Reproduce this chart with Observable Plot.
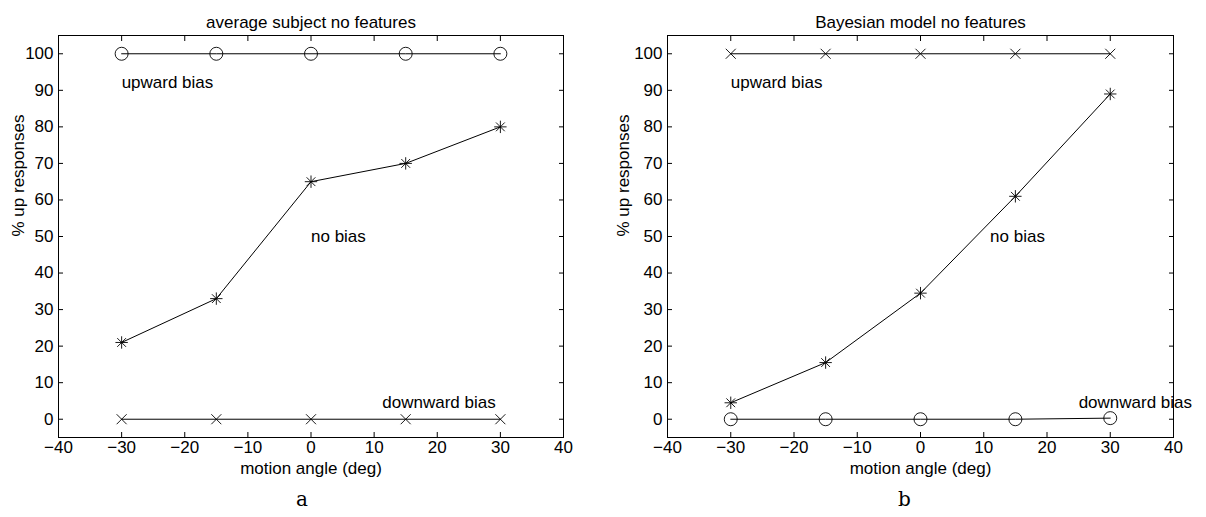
<!DOCTYPE html>
<html>
<head>
<meta charset="utf-8">
<script src="https://cdn.jsdelivr.net/npm/d3@7"></script>
<script src="https://cdn.jsdelivr.net/npm/@observablehq/plot@0.6"></script>
<style>
  html, body { margin: 0; padding: 0; background: #fff; }
  #wrap { display: flex; width: 1206px; height: 517px; }
</style>
</head>
<body>
<div id="wrap"></div>
<script>
// ---- data ----
const angles = [-30, -15, 0, 15, 30];
const subjectUp = [100, 100, 100, 100, 100];
const subjectNone = [21, 33, 65, 70, 80];
const subjectDown = [0, 0, 0, 0, 0];
const modelUp = [100, 100, 100, 100, 100];
const modelNone = [4.5, 15.5, 34.5, 61, 89];
const modelDown = [0, 0, 0, 0, 0.3];
const xTicks = [-40, -30, -20, -10, 0, 10, 20, 30, 40];
const yTicks = [0, 10, 20, 30, 40, 50, 60, 70, 80, 90, 100];
const titles = ["average subject no features", "Bayesian model no features"];
const captions = ["a", "b"];
const xLabel = "motion angle (deg)";
const yLabel = "% up responses";
const subjectLabels = [
  {x: -30, y: 92, text: "upward bias"},
  {x: 0, y: 50, text: "no bias"},
  {x: 11.3, y: 4.5, text: "downward bias"}
];
const modelLabels = [
  {x: -30, y: 92, text: "upward bias"},
  {x: 11, y: 50, text: "no bias"},
  {x: 25, y: 4.5, text: "downward bias"}
];

// ---- symbols (MATLAB style) ----
const timesSym = {draw(ctx, size) {
  const r = Math.sqrt(size / Math.PI);
  ctx.moveTo(-r, -r); ctx.lineTo(r, r);
  ctx.moveTo(r, -r); ctx.lineTo(-r, r);
}};
const starSym = {draw(ctx, size) {
  const r = Math.sqrt(size / Math.PI), d = r * 0.7071;
  ctx.moveTo(-r, 0); ctx.lineTo(r, 0);
  ctx.moveTo(0, -r); ctx.lineTo(0, r);
  ctx.moveTo(-d, -d); ctx.lineTo(d, d);
  ctx.moveTo(d, -d); ctx.lineTo(-d, d);
}};

function series(vals) { return angles.map((a, i) => ({x: a, y: vals[i]})); }

const FONT = "'Liberation Sans', Arial, Helvetica, sans-serif";
const FS = 17;

function panel({title, caption, up, none, down, upSym, downSym, labels, marginLeft, marginRight, captionDx, ylabDx}) {
  const upData = series(up), noneData = series(none), downData = series(down);
  const symMark = (data, sym) => sym === "circle"
    ? Plot.dot(data, {x: "x", y: "y", r: 6.5, symbol: "circle", fill: "none", stroke: "black", strokeWidth: 0.9})
    : Plot.dot(data, {x: "x", y: "y", r: sym === starSym ? 6.2 : 5, symbol: sym, fill: "none", stroke: "black", strokeWidth: 0.9});
  return Plot.plot({
    width: 603,
    height: 517,
    marginLeft, marginRight,
    marginTop: 35,
    marginBottom: 80,
    style: {fontFamily: FONT, fontSize: FS + "px", background: "white", color: "black", overflow: "visible"},
    x: {domain: [-40, 40]},
    y: {domain: [-5, 105]},
    marks: [
      Plot.frame({stroke: "black", strokeWidth: 1}),
      // tick labels
      Plot.axisX({anchor: "bottom", ticks: xTicks, tickSize: 0, tickPadding: 3, label: null, fontSize: FS}),
      Plot.axisY({anchor: "left", ticks: yTicks, tickSize: 0, tickPadding: 5, label: null, fontSize: FS}),
      // inward ticks on all four sides
      Plot.axisX({anchor: "bottom", ticks: xTicks, tickSize: -5, tickFormat: () => "", label: null}),
      Plot.axisX({anchor: "top", ticks: xTicks, tickSize: -5, tickFormat: () => "", label: null}),
      Plot.axisY({anchor: "left", ticks: yTicks, tickSize: -5, tickFormat: () => "", label: null}),
      Plot.axisY({anchor: "right", ticks: yTicks, tickSize: -5, tickFormat: () => "", label: null}),
      // lines
      Plot.line(upData, {x: "x", y: "y", stroke: "black", strokeWidth: 1}),
      Plot.line(noneData, {x: "x", y: "y", stroke: "black", strokeWidth: 1}),
      Plot.line(downData, {x: "x", y: "y", stroke: "black", strokeWidth: 1}),
      symMark(upData, upSym),
      symMark(noneData, starSym),
      symMark(downData, downSym),
      // annotations
      Plot.text(labels, {x: "x", y: "y", text: "text", textAnchor: "start", fontSize: FS, fill: "black"}),
      // title, axis labels, caption
      Plot.text([title], {frameAnchor: "top", dy: -20, fontSize: FS, fill: "black", text: d => d}),
      Plot.text([xLabel], {frameAnchor: "bottom", dy: 36, fontSize: FS, fill: "black", text: d => d}),
      Plot.text([yLabel], {frameAnchor: "left", dx: ylabDx, rotate: -90, fontSize: FS, fill: "black", text: d => d}),
      Plot.text([caption], {frameAnchor: "bottom", dy: 68, dx: captionDx, fontSize: 20, fontFamily: "'DejaVu Serif', 'Liberation Serif', serif", fill: "black", text: d => d})
    ]
  });
}

const wrap = document.getElementById("wrap");
wrap.append(panel({
  title: titles[0], caption: captions[0],
  up: subjectUp, none: subjectNone, down: subjectDown,
  upSym: "circle", downSym: timesSym, labels: subjectLabels,
  marginLeft: 58, marginRight: 40, captionDx: -9, ylabDx: -40
}));
wrap.append(panel({
  title: titles[1], caption: captions[1],
  up: modelUp, none: modelNone, down: modelDown,
  upSym: timesSym, downSym: "circle", labels: modelLabels,
  marginLeft: 64, marginRight: 33, captionDx: -16, ylabDx: -44
}));
</script>
</body>
</html>
